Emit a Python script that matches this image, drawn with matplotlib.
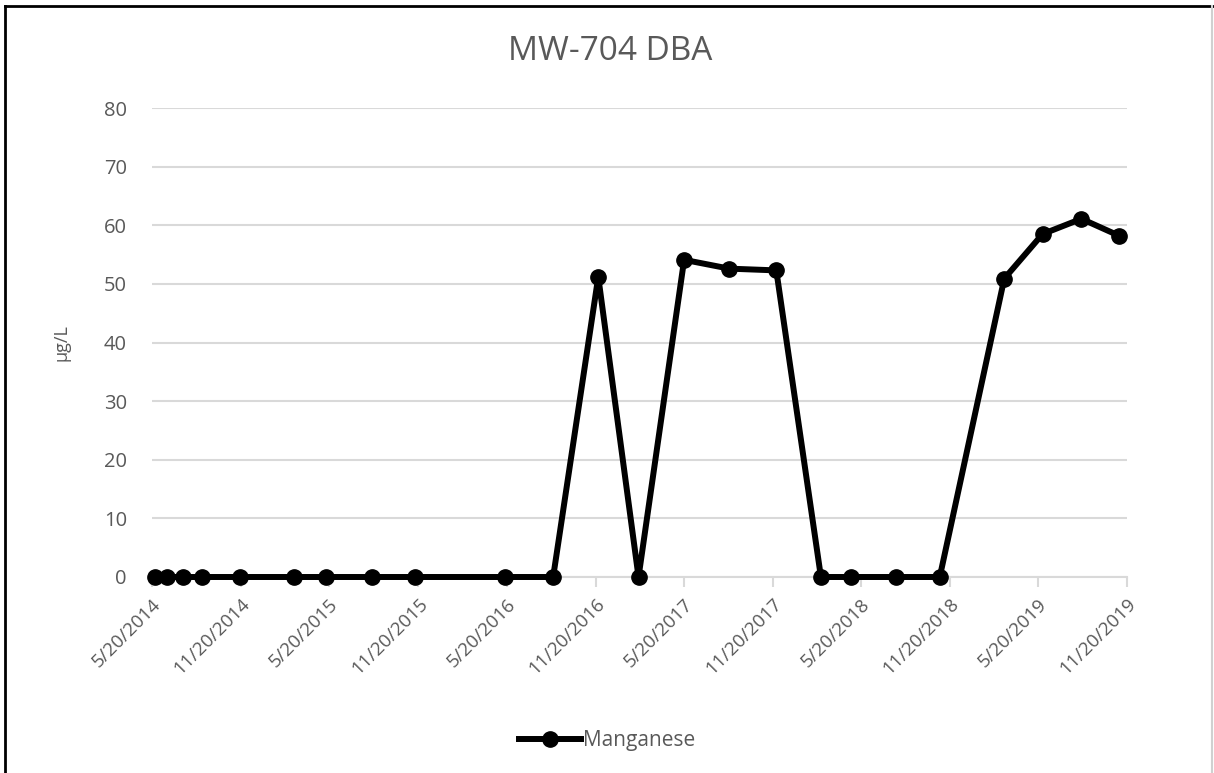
import datetime as dt

import numpy as np
import matplotlib
matplotlib.use("Agg")
import matplotlib.pyplot as plt
import matplotlib.dates as mdates
from matplotlib.lines import Line2D

plt.rcParams["font.family"] = ["Open Sans", "DejaVu Sans"]

title = "MW-704 DBA"
series_name = "Manganese"
y_label = "\u00b5g/L"

sample_dates = [
    "2014-05-26", "2014-06-20", "2014-07-22", "2014-09-01", "2014-11-18",
    "2015-03-09", "2015-05-14", "2015-08-17", "2015-11-13", "2016-05-16",
    "2016-08-24", "2016-11-25", "2017-02-16", "2017-05-21", "2017-08-22",
    "2017-11-27", "2018-02-27", "2018-05-01", "2018-08-01", "2018-10-30",
    "2019-03-12", "2019-05-30", "2019-08-18", "2019-11-04",
]
manganese = [
    0, 0, 0, 0, 0,
    0, 0, 0, 0, 0,
    0, 51.2, 0, 54.1, 52.6,
    52.3, 0, 0, 0, 0,
    50.9, 58.5, 61.1, 58.2,
]

tick_dates = [
    "2014-05-20", "2014-11-20", "2015-05-20", "2015-11-20", "2016-05-20",
    "2016-11-20", "2017-05-20", "2017-11-20", "2018-05-20", "2018-11-20",
    "2019-05-20", "2019-11-20",
]
tick_labels = [
    "5/20/2014", "11/20/2014", "5/20/2015", "11/20/2015", "5/20/2016",
    "11/20/2016", "5/20/2017", "11/20/2017", "5/20/2018", "11/20/2018",
    "5/20/2019", "11/20/2019",
]
y_ticks = [0, 10, 20, 30, 40, 50, 60, 70, 80]

text_color = "#595959"
grid_color = "#d9d9d9"

x = [dt.datetime.strptime(d, "%Y-%m-%d") for d in sample_dates]
xt = [dt.datetime.strptime(d, "%Y-%m-%d") for d in tick_dates]

fig = plt.figure(figsize=(12.14, 7.73), dpi=100)
ax = fig.add_axes([152 / 1214, 196 / 773, 975 / 1214, 469 / 773])

ax.plot(
    x, manganese,
    color="black",
    linewidth=4.3,
    marker="o",
    markersize=11,
    label=series_name,
    zorder=3,
    clip_on=False,
)

ax.set_xlim(xt[0], xt[-1])
ax.set_ylim(0, 80)
ax.set_yticks(y_ticks)
ax.set_xticks(xt)
ax.set_xticklabels(tick_labels, rotation=45, ha="right", rotation_mode="anchor")

ax.grid(axis="y", color=grid_color, linewidth=1.5)
ax.set_axisbelow(True)
for side in ["top", "right", "left"]:
    ax.spines[side].set_visible(False)
ax.spines["bottom"].set_color(grid_color)
ax.spines["bottom"].set_linewidth(1.5)

ax.tick_params(axis="y", length=0, pad=18, labelsize=14.5, labelcolor=text_color)
ax.tick_params(axis="x", length=7, width=1.5, color=grid_color, pad=6,
               labelsize=13.5, labelcolor=text_color)

ax.set_ylabel(y_label, fontsize=13, color=text_color, labelpad=24)
fig.text(0.503, 0.933, title, ha="center", va="center", fontsize=24,
         color=text_color)

fig.legend(
    loc="center", bbox_to_anchor=(0.5, 0.042), frameon=False,
    fontsize=15, labelcolor=text_color, handlelength=3.0, handletextpad=0.1,
)

# outer chart border
fig.add_artist(Line2D([5 / 1214, 1213 / 1214], [767 / 773, 767 / 773],
                     color="black", linewidth=2))
fig.add_artist(Line2D([5 / 1214, 5 / 1214], [0, 767 / 773],
                     color="black", linewidth=2))
fig.add_artist(Line2D([1212 / 1214, 1212 / 1214], [0, 767 / 773],
                     color="#d0d0d0", linewidth=1.5))

fig.savefig("out.png", dpi=100)
